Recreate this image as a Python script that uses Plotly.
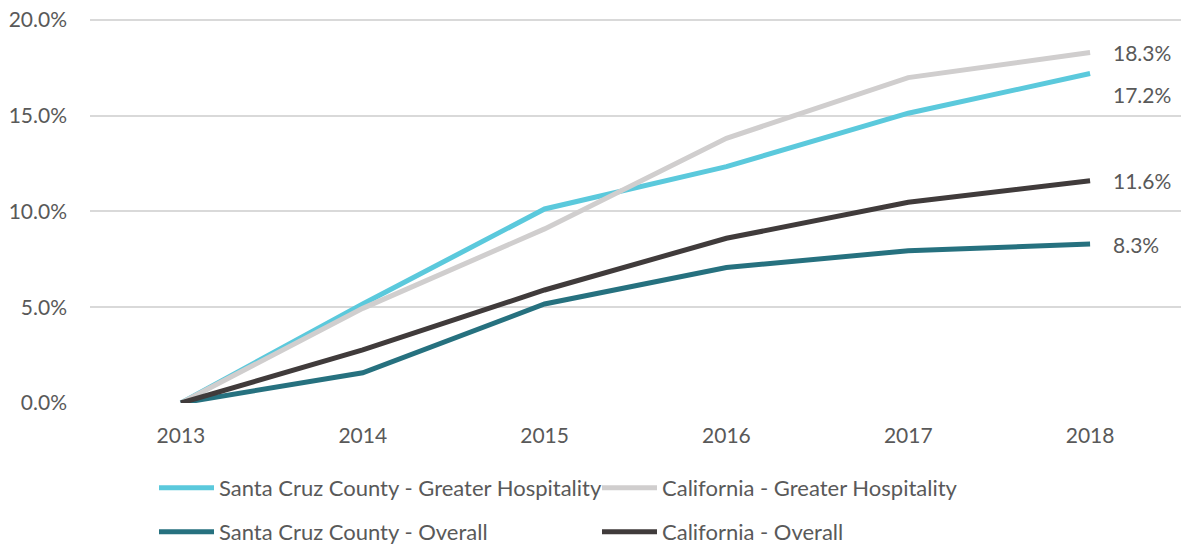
import plotly.graph_objects as go

years = ["2013", "2014", "2015", "2016", "2017", "2018"]
sc_hosp = [0.0, 5.17, 10.13, 12.34, 15.13, 17.2]
ca_hosp = [0.0, 4.94, 9.09, 13.82, 16.99, 18.3]
sc_all = [0.0, 1.58, 5.17, 7.07, 7.95, 8.3]
ca_all = [0.0, 2.77, 5.9, 8.6, 10.48, 11.6]

names = ["Santa Cruz County - Greater Hospitality", "California - Greater Hospitality",
         "Santa Cruz County - Overall", "California - Overall"]
series = [sc_hosp, ca_hosp, sc_all, ca_all]
colors = ["#5BC9DC", "#D0CECE", "#26717F", "#403B3B"]
legends = ["legend", "legend", "legend2", "legend2"]

FONT = "Lato"
TXT = "#595959"

W, H = 1182, 544

fig = go.Figure()
for i in range(4):
    fig.add_trace(go.Scatter(
        x=years, y=series[i], name=names[i], mode="lines",
        line=dict(color=colors[i], width=5),
        legend=legends[i],
    ))

yshifts = [-21, 0, 0, 0]
last = len(years) - 1  # category index of the last year
for i in range(4):
    fig.add_annotation(
        x=last, y=series[i][-1], xref="x", yref="y",
        text=f"{series[i][-1]:.1f}%",
        showarrow=False, xanchor="left", xshift=21, yshift=yshifts[i],
        font=dict(family=FONT, size=21, color=TXT),
    )

leg_common = dict(orientation="h", xref="container", yref="container",
                  x=154 / W, yanchor="middle", xanchor="left",
                  entrywidth=373, entrywidthmode="pixels",
                  font=dict(family=FONT, size=22, color=TXT),
                  bgcolor="rgba(0,0,0,0)", itemwidth=55)

fig.update_layout(
    width=W, height=H,
    margin=dict(l=90, r=1, t=18, b=141, autoexpand=False),
    paper_bgcolor="white", plot_bgcolor="white",
    font=dict(family=FONT, size=21, color=TXT),
    xaxis=dict(type="category", range=[-0.5, 5.5], showgrid=False, showline=False,
               zeroline=False, ticks="", ticklabelstandoff=18,
               tickfont=dict(family=FONT, size=21, color=TXT)),
    yaxis=dict(range=[0, 20.1], tickvals=[0, 5, 10, 15, 20],
               ticktext=["0.0%", "5.0%", "10.0%", "15.0%", "20.0%"],
               showgrid=True, gridcolor="#D9D9D9", gridwidth=1.5,
               zeroline=False, showline=False, ticks="", ticklabelstandoff=22,
               ticklabeloverflow="allow",
               tickfont=dict(family=FONT, size=21, color=TXT)),
    showlegend=True,
    legend=dict(leg_common, y=1 - 488 / H),
    legend2=dict(leg_common, y=1 - 532 / H),
)

# remove the browser's default 8px body margin so the figure fills the window
fig.write_html("out.html", config={"displayModeBar": False},
               post_script="document.body.style.margin='0px';")
